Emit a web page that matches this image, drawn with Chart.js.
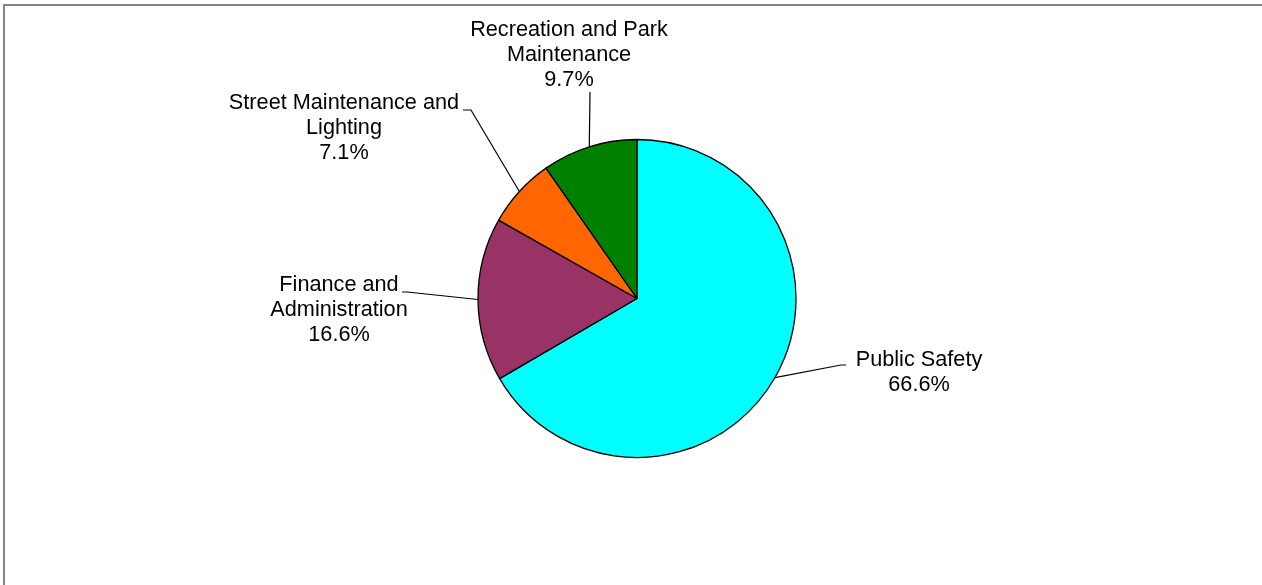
<!DOCTYPE html>
<html>
<head>
<meta charset="utf-8">
<script src="https://cdn.jsdelivr.net/npm/chart.js@4.4.1/dist/chart.umd.min.js"></script>
<style>
  html, body { margin: 0; padding: 0; background: #fff; }
  #wrap { position: relative; width: 1262px; height: 585px; }
  #frame {
    position: absolute; left: 3px; top: 4px; right: 0; bottom: -2px;
    border-top: 2px solid #858585; border-left: 2px solid #858585;
    pointer-events: none;
  }
  canvas { position: absolute; left: 0; top: 0; }
</style>
</head>
<body>
<div id="wrap">
  <canvas id="gastos" width="1262" height="585"></canvas>
  <div id="frame"></div>
</div>
<script>
// categorías (ya partidas en líneas) y porcentajes
const categorias = [
  ['Public Safety'],
  ['Finance and', 'Administration'],
  ['Street Maintenance and', 'Lighting'],
  ['Recreation and Park', 'Maintenance']
];
const porcentajes = [66.6, 16.6, 7.1, 9.7];
const colores = ['#00FFFF', '#993366', '#FF6600', '#008000'];

// dónde va cada etiqueta respecto al centro del pastel (px)
// texto: centro de la primera línea; guia: codo y final de la línea guía
const posEtiquetas = [
  { texto: [282, 61.5],   guia: [[204, 66.5], [209, 66.5]] },
  { texto: [-298, -13.5], guia: [[-230, -6.5], [-235, -6.5]] },
  { texto: [-293, -195.5], guia: [[-166, -188.5], [-174, -188.5]] },
  { texto: [-68, -268.5], guia: [[-47, -206.5]] }
];

const FUENTE = '21.7px "Liberation Sans", Arial, sans-serif';
const ALTO_LINEA = 25;

// plugin para etiquetas con líneas guía (estilo Excel)
const etiquetasPlugin = {
  id: 'etiquetas',
  afterDatasetsDraw(chart) {
    const ctx = chart.ctx;
    const meta = chart.getDatasetMeta(0);
    ctx.save();
    ctx.font = FUENTE;
    ctx.fillStyle = '#000';
    ctx.strokeStyle = '#000';
    ctx.lineWidth = 1.2;
    ctx.textAlign = 'center';
    ctx.textBaseline = 'middle';

    meta.data.forEach((arc, i) => {
      const { x, y, outerRadius, startAngle, endAngle } = arc.getProps(['x', 'y', 'outerRadius', 'startAngle', 'endAngle'], true);
      const medio = (startAngle + endAngle) / 2;
      const bordeX = x + Math.cos(medio) * outerRadius;
      const bordeY = y + Math.sin(medio) * outerRadius;
      const pos = posEtiquetas[i];

      // línea guía
      ctx.beginPath();
      ctx.moveTo(bordeX, bordeY);
      pos.guia.forEach(p => ctx.lineTo(x + p[0], y + p[1]));
      ctx.stroke();

      // texto
      const lineas = categorias[i].concat([porcentajes[i].toFixed(1) + '%']);
      lineas.forEach((t, k) => {
        ctx.fillText(t, x + pos.texto[0], y + pos.texto[1] + k * ALTO_LINEA);
      });
    });
    ctx.restore();
  }
};

new Chart(document.getElementById('gastos'), {
  type: 'pie',
  data: {
    labels: categorias,
    datasets: [{
      data: porcentajes,
      backgroundColor: colores,
      borderColor: '#000',
      borderWidth: 1.3,
      hoverOffset: 0
    }]
  },
  options: {
    responsive: false,
    animation: false,
    radius: 159,
    layout: { padding: { left: 300, right: 288, top: 100, bottom: 88 } },
    plugins: {
      legend: { display: false },
      tooltip: { enabled: false }
    }
  },
  plugins: [etiquetasPlugin]
});
</script>
</body>
</html>
